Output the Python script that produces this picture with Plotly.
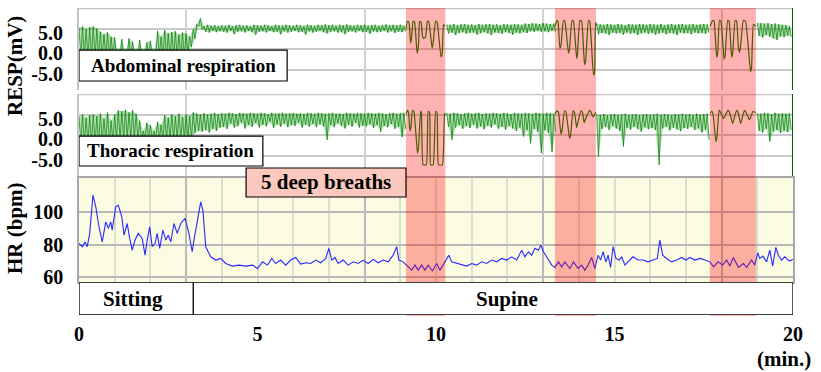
import plotly.graph_objects as go

N = None
# ---------------- data ----------------
# Respiration: peak samples at t = 0.0, 0.1, ... and trough samples half a step later
RESP_STEP = 0.1        # min between successive peak samples
RESP_HALF_STEP = 0.05  # min between a peak sample and the following trough sample

abd_hi = [
    5.2, 5.5, 4.8, 5.3, 5.5, 5.0, 4.2, 3.6, 4.1, 3.0,
    2.8, -1.0, 2.4, -1.0, 2.6, 1.8, -1.0, 2.2, -1.0, 1.6,
    2.0, -1.0, 4.4, 3.0, 4.6, 3.8, 4.1, 4.3, 3.5, 4.0,
    3.8, 3.0, 4.8, 6.0, 7.5, 5.6, 5.9, 5.7, 5.8, 5.6,
    5.8, 5.7, 5.9, 5.6, 5.8, 5.9, 5.7, 5.8, 5.6, 5.9,
    5.8, 5.7, 5.9, 5.8, 5.6, 5.9, 5.8, 5.7, 5.9, 5.8,
    5.7, 5.9, 5.8, 5.6, 5.9, 5.8, 5.7, 5.9, 5.8, 6.0,
    5.8, 5.9, 5.7, 5.9, 5.8, 6.0, 5.8, 5.7, 5.9, 5.8,
    5.9, 5.7, 5.8, 5.9, 5.7, 5.8, 6.0, 5.8, 5.9, 5.8,
    5.9, 5.7, N, N, N, N, N, N, N, N,
    N, N, N, 6.0, 5.9, 6.1, 5.8, 6.0, 6.1, 5.9,
    6.0, 5.8, 6.1, 5.9, 6.0, 6.1, 5.9, 6.0, 5.8, 6.1,
    6.0, 5.9, 6.1, 6.0, 5.9, 6.2, 6.1, 6.3, 6.2, 6.1,
    6.3, 6.2, 6.1, 6.2, N, N, N, N, N, N,
    N, N, N, N, N, 6.1, 6.0, 5.9, 6.1, 6.0,
    5.9, 6.1, 6.0, 5.8, 6.1, 6.0, 5.9, 6.1, 6.0, 5.9,
    6.1, 6.0, 5.9, 6.1, 5.8, 6.0, 6.1, 5.9, 6.0, 6.1,
    5.9, 6.0, 6.1, 5.9, 6.0, 6.1, 6.0, N, N, N,
    N, N, N, N, N, N, N, N, N, N,
    6.4, 6.3, 6.2, 6.3, 6.1, 6.2, 6.0, 5.9, 5.8, 5.6,
]
abd_lo = [
    -2, -2, -2, -2, -2, -2, -2, -2, -2, -2,
    -2, -2, -2, -2, -2, -2, -2, -2, -2, -2,
    -2, -2, -2, -2, -2, -2, -2, -2, -2, -2,
    -1.0, 0.5, 2.5, 5.5, 4.8, 4.2, 4.0, 4.4, 4.1, 4.3,
    4.2, 4.0, 4.4, 3.6, 4.2, 4.3, 4.0, 4.4, 4.1, 3.5,
    4.2, 4.3, 4.0, 4.4, 4.1, 4.2, 3.6, 4.3, 4.0, 4.2,
    4.4, 4.1, 4.2, 3.5, 4.3, 4.0, 4.2, 4.4, 4.1, 3.8,
    4.2, 4.3, 4.0, 4.1, 3.6, 4.2, 4.3, 4.0, 4.4, 4.1,
    4.2, 3.7, 4.3, 4.1, 4.2, 4.4, 4.0, 4.3, 3.9, 4.2,
    4.1, 4.3, N, N, N, N, N, N, N, N,
    N, N, N, 3.8, 4.0, 3.4, 3.9, 4.1, 3.7, 3.9,
    4.0, 3.5, 3.9, 4.1, 3.8, 3.4, 4.0, 3.9, 3.7, 4.1,
    3.9, 3.5, 4.0, 3.8, 4.1, 3.9, 4.3, 4.2, 4.4, 4.2,
    4.3, 4.1, 4.4, 4.2, N, N, N, N, N, N,
    N, N, N, N, N, 3.6, 3.9, 3.8, 3.4, 4.0,
    3.8, 3.9, 3.5, 4.0, 3.7, 3.9, 3.4, 3.8, 4.0, 3.7,
    3.9, 3.5, 3.8, 4.0, 3.6, 3.9, 3.8, 3.4, 4.0, 3.8,
    3.9, 3.6, 4.0, 3.8, 3.9, 3.7, 4.0, N, N, N,
    N, N, N, N, N, N, N, N, N, N,
    3.2, 2.8, 3.4, 3.0, 2.6, 2.2, 3.1, 2.9, 3.3, 3.0,
]
tho_hi = [
    4.5, 5.0, 4.2, 4.8, 5.0, 4.6, 5.2, 4.0, 5.5, 3.5,
    5.0, 6.0, 5.8, 6.1, 5.5, 6.0, 5.2, 3.5, 1.0, 3.0,
    2.4, 1.0, 3.2, 2.5, 4.8, 4.2, 5.0, 4.6, 5.2, 4.4,
    5.0, 4.6, 5.5, 5.2, 5.0, 5.3, 5.0, 5.2, 5.4, 5.1,
    5.3, 5.2, 5.4, 5.3, 5.1, 5.4, 5.3, 5.2, 5.4, 5.3,
    5.2, 5.4, 5.3, 5.1, 5.4, 5.2, 5.3, 5.4, 5.2, 5.3,
    5.4, 5.2, 5.3, 5.1, 5.4, 5.3, 5.2, 5.4, 5.3, 5.2,
    5.3, 5.4, 5.2, 5.3, 5.1, 5.4, 5.3, 5.2, 5.4, 5.3,
    5.2, 5.4, 5.3, 5.2, 5.4, 5.3, 5.1, 5.3, 5.4, 5.2,
    5.3, 5.4, N, N, N, N, N, N, N, N,
    N, N, N, 5.3, 5.2, 5.4, 5.3, 5.1, 5.3, 5.4,
    5.2, 5.3, 5.4, 5.1, 5.3, 5.2, 5.4, 5.3, 5.2, 5.4,
    5.3, 5.1, 5.4, 5.3, 5.2, 5.4, 5.3, 5.2, 5.4, 5.3,
    5.2, 5.4, 5.3, 5.2, N, N, N, N, N, N,
    N, N, N, N, N, 5.0, 4.9, 5.1, 4.8, 5.0,
    5.1, 4.9, 5.0, 5.2, 4.9, 5.0, 5.1, 4.8, 5.0, 5.1,
    4.9, 5.0, 5.2, 4.9, 5.1, 5.0, 4.8, 5.1, 5.0, 5.2,
    5.0, 5.1, 4.9, 5.2, 5.0, 5.1, 5.2, N, N, N,
    N, N, N, N, N, N, N, N, N, N,
    5.3, 5.2, 5.4, 5.3, 5.1, 5.4, 5.2, 5.3, 5.2, 5.3,
]
tho_lo = [
    -2, -2, -2, -2, -2, -2, -2, -2, -2, -2,
    -1, -1, -1, -1, -1, -1, -1, -1, -1, -1,
    -1, -1, -1, -1, -1, -1, -1, -1, -1, -1,
    -1, -1, 0.5, 1.0, 0.8, 1.2, 0.6, 1.5, 1.0, 1.8,
    2.0, 1.5, 2.8, 1.8, 2.2, 3.0, 1.6, 2.4, 2.0, 2.9,
    1.8, 2.5, 2.1, 3.2, 1.7, 2.6, 2.0, 2.8, 1.9, 2.4,
    2.2, 3.0, 1.8, 2.5, 2.0, 2.7, 1.9, 2.6, 2.1, -1.2,
    2.4, 1.9, 2.8, 2.2, 1.6, 2.5, 2.0, 3.0, 1.8, 2.3,
    2.1, 2.6, 1.7, 2.4, 0.8, 2.2, 1.9, 2.7, 1.5, 2.0,
    -0.5, 1.5, N, N, N, N, N, N, N, N,
    N, N, N, 2.0, -1.2, 1.8, 2.4, 1.5, 2.2, 1.7,
    2.5, 1.6, 2.1, 1.4, 2.3, 1.8, 2.6, 1.5, 2.0, 1.3,
    2.2, 1.6, 1.0, 1.8, -0.4, 1.2, -2.0, 1.5, 0.8, -4.4,
    1.2, 0.5, -4.2, 1.0, N, N, N, N, N, N,
    N, N, N, N, N, -5.3, 1.5, 2.0, 1.2, 2.2,
    1.6, 1.0, -2.8, 1.8, 1.3, 2.0, 1.5, 0.8, 1.9, 1.4,
    1.7, 1.2, -7.3, 1.6, 2.0, 1.1, 1.8, 1.4, 0.9, 1.7,
    1.5, 2.0, 1.2, 1.6, 0.6, 1.3, -1.2, N, N, N,
    N, N, N, N, N, N, N, N, N, N,
    1.0, 0.6, 1.5, -1.6, 0.8, 1.2, 0.5, 1.0, 0.7, 1.3,
]

# Deep-breath episodes (slow waves), abdominal
db1_abd_t = [9.16, 9.20, 9.24, 9.29, 9.31, 9.36, 9.40, 9.47, 9.51, 9.54, 9.58, 9.62,
             9.65, 9.71, 9.76, 9.80, 9.89, 9.92, 9.99, 10.03, 10.14, 10.17, 10.21, 10.25]
db1_abd_v = [5.0, 6.8, 6.6, 1.5, 2.2, 6.8, 6.6, -1.0, 1.0, 6.7, 6.6, 3.2,
             2.6, 3.0, 6.8, 6.7, 0.2, 1.5, 6.8, 6.6, -1.9, -1.5, 6.0, 5.5]
db2_abd_t = [13.33, 13.39, 13.42, 13.47, 13.50, 13.57, 13.61, 13.71, 13.74, 13.81, 13.85, 13.94,
             13.96, 14.03, 14.08, 14.16, 14.19, 14.27, 14.31, 14.41, 14.44, 14.47, 14.50]
db2_abd_v = [5.5, 7.0, 6.6, 0.2, 0.8, 7.0, 6.8, -1.0, 0.0, 7.0, 6.8, -2.3,
             -1.5, 7.0, 6.8, -3.8, -3.0, 7.0, 6.6, -6.3, -5.8, 6.5, 5.8]
db3_abd_t = [17.68, 17.75, 17.79, 17.86, 17.89, 17.94, 17.98, 18.07, 18.10, 18.17, 18.21, 18.28,
             18.31, 18.38, 18.42, 18.47, 18.50, 18.53, 18.61, 18.67, 18.81, 18.84, 18.89, 18.96]
db3_abd_v = [5.5, 7.0, 6.8, -2.0, -1.0, 7.0, 6.8, -2.5, -1.5, 7.0, 6.8, -2.0,
             -1.0, 7.0, 6.8, 0.5, -0.8, 0.5, 7.0, 6.8, -5.5, -4.5, 6.0, 5.5]
# Deep-breath episodes, thoracic
db1_tho_t = [9.16, 9.20, 9.23, 9.27, 9.30, 9.34, 9.38, 9.48, 9.51, 9.57, 9.59, 9.64,
             9.73, 9.78, 9.82, 9.85, 9.92, 9.99, 10.03, 10.07, 10.18, 10.24, 10.27]
db1_tho_v = [5.2, 6.0, 5.5, 1.0, 2.0, 6.0, 5.8, -4.4, -3.0, 5.8, 5.5, -7.3,
             -7.3, 5.8, 5.5, -7.3, -7.3, 5.8, 5.5, -7.3, -7.3, 5.0, 5.3]
db2_tho_t = [13.33, 13.39, 13.43, 13.50, 13.53, 13.60, 13.64, 13.74, 13.77, 13.84, 13.88,
             13.94, 13.96, 14.06, 14.10, 14.15, 14.17, 14.30, 14.34, 14.40, 14.43, 14.48]
db2_tho_v = [5.2, 5.9, 5.6, 0.2, 1.0, 5.9, 5.6, -0.8, 0.0, 5.9, 5.5,
             1.8, 2.5, 5.9, 5.6, 3.0, 3.5, 6.0, 5.6, 4.4, 4.8, 5.6]
db3_tho_t = [17.68, 17.73, 17.77, 17.84, 17.87, 17.93, 17.97, 18.05, 18.08, 18.18, 18.22, 18.31,
             18.33, 18.42, 18.46, 18.53, 18.56, 18.64, 18.68, 18.78, 18.81, 18.88, 18.96]
db3_tho_v = [5.3, 5.8, 4.5, -1.6, -0.5, 6.0, 5.6, 4.0, 4.4, 6.0, 5.6, 2.8,
             3.3, 6.0, 5.6, 2.8, 3.5, 6.0, 5.6, 3.7, 4.2, 5.8, 5.4]

# Heart rate (bpm)
hr_t = [0.00, 0.09, 0.17, 0.23, 0.30, 0.39, 0.47, 0.56, 0.65, 0.75, 0.82, 0.89, 0.93, 1.03, 1.10,
        1.20, 1.26, 1.35, 1.42, 1.49, 1.57, 1.66, 1.77, 1.85, 1.91, 1.98, 2.05, 2.13, 2.19, 2.26,
        2.35, 2.43, 2.50, 2.57, 2.66, 2.75, 2.85, 2.97, 3.08, 3.17, 3.22, 3.31, 3.41, 3.47, 3.55,
        3.69, 3.83, 3.97, 4.11, 4.30, 4.48, 4.67, 4.86, 5.00, 5.14, 5.28, 5.40, 5.51, 5.65, 5.79,
        5.93, 6.07, 6.21, 6.35, 6.49, 6.63, 6.77, 6.91, 7.00, 7.08, 7.17, 7.26, 7.40, 7.54, 7.68,
        7.82, 7.96, 8.10, 8.24, 8.38, 8.52, 8.66, 8.80, 8.90, 8.96, 9.08, 9.22, 9.32, 9.41, 9.50,
        9.60, 9.69, 9.78, 9.90, 10.02, 10.11, 10.25, 10.36, 10.44, 10.58, 10.72, 10.86, 11.00,
        11.14, 11.28, 11.42, 11.56, 11.70, 11.84, 11.98, 12.12, 12.26, 12.40, 12.49, 12.59, 12.68,
        12.77, 12.87, 12.94, 13.01, 13.10, 13.24, 13.33, 13.43, 13.52, 13.61, 13.75, 13.85, 13.98,
        14.08, 14.17, 14.26, 14.36, 14.45, 14.54, 14.61, 14.68, 14.76, 14.82, 14.89, 14.96, 15.04,
        15.13, 15.20, 15.29, 15.38, 15.52, 15.66, 15.80, 15.94, 16.08, 16.20, 16.27, 16.35, 16.46,
        16.60, 16.74, 16.88, 17.00, 17.11, 17.25, 17.39, 17.53, 17.67, 17.78, 17.90, 18.03, 18.14,
        18.23, 18.33, 18.47, 18.61, 18.70, 18.84, 18.93, 19.01, 19.07, 19.16, 19.26, 19.35, 19.43,
        19.52, 19.59, 19.68, 19.77, 19.89, 20.00]
hr_v = [80.7, 78.7, 81.7, 78.7, 86.9, 110.5, 103.3, 91.0, 81.7, 94.0, 90.0, 94.0, 88.9, 103.3, 104.3,
        97.1, 85.8, 93.0, 83.8, 76.6, 82.8, 86.9, 83.8, 73.5, 82.8, 91.0, 78.7, 80.7, 86.9, 77.7,
        88.9, 82.8, 85.8, 81.7, 93.0, 86.9, 93.0, 96.1, 86.9, 75.6, 82.8, 93.0, 106.3, 101.2, 78.7,
        72.5, 70.5, 71.5, 68.4, 66.8, 67.4, 66.8, 67.4, 65.3, 69.4, 67.4, 71.5, 68.4, 70.5, 67.4,
        70.5, 72.1, 68.0, 68.8, 68.4, 70.5, 68.8, 71.5, 77.7, 70.5, 72.1, 68.4, 70.5, 67.4, 69.4,
        68.4, 70.5, 68.4, 70.9, 68.8, 70.5, 69.4, 73.5, 78.7, 70.5, 69.4, 66.3, 64.3, 67.4, 64.3,
        67.4, 64.3, 67.4, 63.9, 68.4, 64.3, 69.4, 73.5, 69.4, 68.4, 67.4, 66.8, 68.4,
        67.4, 69.4, 68.4, 70.5, 69.4, 71.5, 70.5, 72.5, 70.5, 76.6, 72.5, 75.6, 73.5,
        77.7, 76.6, 79.7, 75.6, 72.5, 67.4, 66.0, 69.4, 66.3, 69.4, 65.3, 69.4, 65.3,
        67.4, 64.3, 67.4, 72.1, 65.3, 73.5, 70.5, 75.6, 69.4, 73.5, 66.0, 78.7, 71.5,
        70.5, 72.5, 67.4, 69.4, 72.5, 70.5, 70.5, 69.4, 70.5, 71.5, 82.8, 73.5, 71.5,
        69.4, 70.5, 72.1, 70.5, 72.1, 70.5, 71.5, 70.5, 69.4, 66.3, 69.4, 67.4, 70.5,
        66.8, 72.1, 66.0, 68.4, 66.0, 70.5, 67.4, 75.0, 71.5, 72.9, 69.4, 76.6, 66.8,
        78.3, 73.5, 70.5, 72.5, 70.0, 70.9]

db_start = [9.16, 13.33, 17.67]
db_end = [10.26, 14.48, 18.96]
postures = ["Sitting", "Supine"]
posture_start = [0.0, 3.2]
posture_end = [3.2, 20.0]
posture_label_at = [1.5, 12.0]
x_ticks = [0, 5, 10, 15, 20]
resp_ticktext = ["5.0", "0.0", "-5.0"]
hr_ticks = [60, 80, 100]

# ---------------- figure ----------------
W, H = 821, 372
def py(p):
    return 1 - p / H

XD = [79 / W, 793 / W]
FONT = "Liberation Serif"
GREEN = "rgb(0,128,0)"
BAND = "rgba(60,170,60,0.38)"

def interleave(hi, lo):
    out = []
    for h, l in zip(hi, lo):
        out += [h, l]
    return out

def runs(vals):
    out, start = [], None
    for i, v in enumerate(list(vals) + [None]):
        if v is not None and start is None:
            start = i
        elif v is None and start is not None:
            out.append((start, i))
            start = None
    return out

fig = go.Figure()
for hi, lo, xa, ya in [(abd_hi, abd_lo, "x", "y"), (tho_hi, tho_lo, "x2", "y2")]:
    for s, e in runs(hi):
        fig.add_trace(go.Scatter(x0=s * RESP_STEP + RESP_HALF_STEP, dx=RESP_STEP, y=lo[s:e], mode="lines",
                                 line=dict(width=0), xaxis=xa, yaxis=ya, hoverinfo="skip"))
        fig.add_trace(go.Scatter(x0=s * RESP_STEP, dx=RESP_STEP, y=hi[s:e], mode="lines",
                                 line=dict(width=0), fill="tonexty", fillcolor=BAND,
                                 xaxis=xa, yaxis=ya, hoverinfo="skip"))
    fig.add_trace(go.Scatter(x0=0, dx=RESP_HALF_STEP, y=interleave(hi, lo), mode="lines",
                             line=dict(color=GREEN, width=0.7), connectgaps=False,
                             xaxis=xa, yaxis=ya, hoverinfo="skip"))
for t, v in [(db1_abd_t, db1_abd_v), (db2_abd_t, db2_abd_v), (db3_abd_t, db3_abd_v)]:
    fig.add_trace(go.Scatter(x=t, y=v, mode="lines",
                             line=dict(color=GREEN, width=1.2, shape="spline", smoothing=0.4),
                             xaxis="x", yaxis="y"))
for t, v in [(db1_tho_t, db1_tho_v), (db2_tho_t, db2_tho_v), (db3_tho_t, db3_tho_v)]:
    fig.add_trace(go.Scatter(x=t, y=v, mode="lines",
                             line=dict(color=GREEN, width=1.2, shape="spline", smoothing=0.4),
                             xaxis="x2", yaxis="y2"))
fig.add_trace(go.Scatter(x=hr_t, y=hr_v, mode="lines", line=dict(color="rgb(40,40,255)", width=1.1),
                         xaxis="x3", yaxis="y3"))

tickfont = dict(family=FONT, size=20, color="black", weight="bold")
resp_x = dict(domain=XD, range=[0, 20], tickvals=[3, 8, 13, 18], showticklabels=False, automargin=False,
              showgrid=True, gridcolor="#D2D2D2", gridwidth=2, zeroline=False, ticks="")
resp_y = dict(range=[-10, 10], tickvals=[4.0, -1.0, -6.0], ticktext=resp_ticktext, showgrid=False,
              zeroline=False, ticks="", tickfont=tickfont, ticklabelstandoff=10, automargin=False,
              minor=dict(tickvals=[5, 0, -5], showgrid=True, gridcolor="#C8C8C8", gridwidth=1.5, ticks=""),
              showline=True, linecolor="#C4C4C4", linewidth=2)

fig.update_layout(
    width=W, height=H, margin=dict(l=0, r=0, t=0, b=0, autoexpand=False),
    paper_bgcolor="white", plot_bgcolor="white", showlegend=False,
    xaxis=dict(resp_x, anchor="y"),
    yaxis=dict(resp_y, domain=[py(90), py(8)], anchor="x"),
    xaxis2=dict(resp_x, anchor="y2"),
    yaxis2=dict(resp_y, domain=[py(176), py(94)], anchor="x2"),
    xaxis3=dict(domain=XD, range=[0, 20], anchor="y3", tickvals=[3, 8, 13, 18], showticklabels=False,
                showgrid=True, gridcolor="#B8B8B8", gridwidth=1.5, zeroline=False, ticks="", automargin=False,
                minor=dict(dtick=1, tick0=0, showgrid=True, gridcolor="#DCDCD0", gridwidth=1.5, ticks=""),
                showline=True, mirror=True, linecolor="#A8A8A8", linewidth=1.5),
    yaxis3=dict(domain=[py(282), py(178)], range=[57, 121], anchor="x3", tickvals=hr_ticks,
                showgrid=True, gridcolor="#B8B8B8", gridwidth=1.5, zeroline=False, ticks="",
                tickfont=tickfont, ticklabelstandoff=10, automargin=False,
                showline=True, mirror=True, linecolor="#A8A8A8", linewidth=1.5),
    xaxis4=dict(domain=XD, range=[0, 20], anchor="y4", tickvals=x_ticks, showgrid=False,
                zeroline=False, ticks="", tickfont=tickfont, ticklabelstandoff=5, automargin=False),
    yaxis4=dict(domain=[py(315), py(282)], range=[0, 1], anchor="x4", visible=False, automargin=False),
)

shapes = []
shapes.append(dict(type="rect", xref="x3 domain", yref="y3 domain", x0=0, x1=1, y0=0, y1=1,
                   fillcolor="#FBFBE2", line=dict(width=0), layer="below"))
for ya in ["y", "y2"]:
    shapes.append(dict(type="line", xref="x domain", yref=ya, x0=0, x1=1, y0=10, y1=10,
                       line=dict(color="#C4C4C4", width=2.5), layer="below"))
    shapes.append(dict(type="line", xref="x", yref=ya, x0=20, x1=20, y0=-10, y1=10,
                       line=dict(color="rgb(0,100,0)", width=2)))
for s, e in zip(db_start, db_end):
    shapes.append(dict(type="rect", xref="x", yref="paper", x0=s, x1=e, y0=py(316), y1=py(8),
                       fillcolor="rgba(255,0,0,0.3)", line=dict(width=0), layer="above"))
shapes.append(dict(type="rect", xref="x4", yref="y4", x0=posture_start[0], x1=posture_end[-1], y0=0, y1=1,
                   fillcolor="white", line=dict(color="black", width=1.3), layer="above"))
for s in posture_start[1:]:
    shapes.append(dict(type="line", xref="x4", yref="y4", x0=s, x1=s, y0=0, y1=1,
                       line=dict(color="black", width=1.3), layer="above"))
shapes.append(dict(type="rect", xref="x", yref="y", x0=0, x1=5.83, y0=-7.8, y1=-0.25,
                   fillcolor="white", line=dict(color="black", width=1.2), layer="above"))
shapes.append(dict(type="rect", xref="x2", yref="y2", x0=0, x1=5.15, y0=-7.56, y1=-0.25,
                   fillcolor="white", line=dict(color="black", width=1.2), layer="above"))
shapes.append(dict(type="rect", xref="x", yref="paper", x0=4.68, x1=db_start[0], y0=py(197), y1=py(168),
                   fillcolor="rgb(250,200,188)", line=dict(color="black", width=1.2), layer="above"))
fig.update_layout(shapes=shapes)

lab = dict(family=FONT, size=19, color="black", weight="bold")
big = dict(family=FONT, size=21, color="black", weight="bold")
C = dict(showarrow=False, xanchor="center", yanchor="middle")
ann = [
    dict(text="Abdominal respiration", xref="x", yref="y", x=5.83 / 2, y=-4.0, font=lab, **C),
    dict(text="Thoracic respiration", xref="x2", yref="y2", x=5.15 / 2, y=-3.9, font=lab, **C),
    dict(text="5 deep breaths", xref="x", yref="paper", x=(4.68 + db_start[0]) / 2, y=py(182), font=big, **C),
    dict(text="RESP(mV)", xref="paper", yref="paper", x=15 / W, y=py(66), textangle=-90, font=big, **C),
    dict(text="HR (bpm)", xref="paper", yref="paper", x=15 / W, y=py(228), textangle=-90, font=big, **C),
    dict(text="(min.)", xref="paper", yref="paper", x=784 / W, y=py(359), font=big, **C),
]
for name, at in zip(postures, posture_label_at):
    ann.append(dict(text=name, xref="x4", yref="y4", x=at, y=0.5, font=big, **C))
fig.update_layout(annotations=ann)

fig.write_html("out.html", config={"displayModeBar": False},
               post_script="document.body.style.margin='0';")
